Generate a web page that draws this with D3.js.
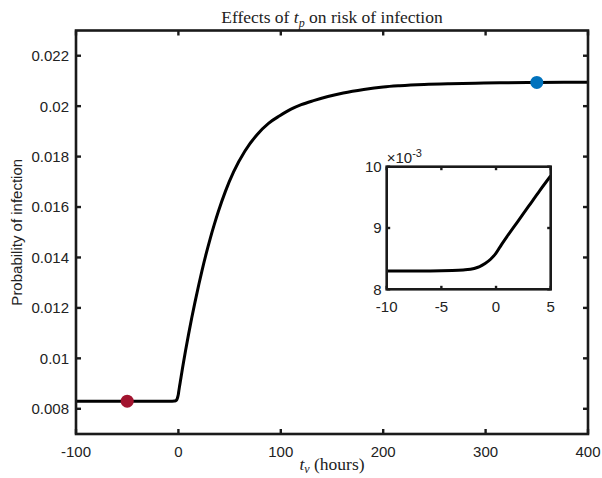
<!DOCTYPE html>
<html>
<head>
<meta charset="utf-8">
<script src="https://cdn.jsdelivr.net/npm/d3@7"></script>
<style>
  html, body { margin: 0; padding: 0; background: #fff; }
  svg { display: block; }
</style>
</head>
<body>
<svg id="chart" width="602" height="478"></svg>
<script>
// ---- data ----
const timeHours = [-100, -50, -10, -6, -4, -3, -2, -1.5, -1, -0.5, 0, 0.5, 1, 2, 3, 4, 5,
  7, 10, 13, 16, 20, 23, 27, 31, 35, 39, 46, 54, 65, 77, 88, 99, 110, 120, 132, 146,
  161, 181, 200, 216, 240, 265, 290, 314, 350, 400];
const infectionProb = [0.00830, 0.00830, 0.00830, 0.00830, 0.008305, 0.008315, 0.00834, 0.00837,
  0.00842, 0.00849, 0.00859, 0.00873, 0.00886, 0.00911, 0.00936, 0.00961, 0.00985,
  0.01031, 0.01097, 0.01160, 0.01219, 0.01294, 0.01347, 0.01413, 0.01474, 0.01530, 0.01582,
  0.01663, 0.01740, 0.01822, 0.01888, 0.01932, 0.01962, 0.01988, 0.02006, 0.02022, 0.02038,
  0.02052, 0.02066, 0.02076, 0.02081, 0.02086, 0.02089, 0.02091, 0.02093, 0.02094, 0.02095];

const markerTimes = [-50, 350];
const markerProbs = [0.00830, 0.02094];
const markerColors = ["#A2142F", "#0072BD"];

const xTicks = [-100, 0, 100, 200, 300, 400];
const xTickLabels = ["-100", "0", "100", "200", "300", "400"];
const yTicks = [0.008, 0.010, 0.012, 0.014, 0.016, 0.018, 0.020, 0.022];
const yTickLabels = ["0.008", "0.01", "0.012", "0.014", "0.016", "0.018", "0.02", "0.022"];

const insetXTicks = [-10, -5, 0, 5];
const insetXTickLabels = ["-10", "-5", "0", "5"];
const insetYTicks = [0.008, 0.009, 0.010];
const insetYTickLabels = ["8", "9", "10"];

const titleParts = ["Effects of ", "t", "p", " on risk of infection"];
const yLabel = "Probability of infection";

// ---- layout ----
const svg = d3.select("#chart");
const M = { left: 76, right: 588, top: 30.5, bottom: 434 };
const I = { left: 386.7, right: 550.7, top: 166.7, bottom: 289.3 };
const ink = "#1a1a1a";
const sans = '"Liberation Sans", Arial, Helvetica, sans-serif';
const serif = '"Liberation Serif", "DejaVu Serif", serif';

const x = d3.scaleLinear().domain([-100, 400]).range([M.left, M.right]);
const y = d3.scaleLinear().domain([0.007, 0.023]).range([M.bottom, M.top]);

const data = timeHours.map((t, i) => ({ t, p: infectionProb[i] }));

function drawAxes(g, xs, ys, box, xt, xtl, yt, ytl, tickLen, fontSize, xLabOff, yLabOff) {
  const tk = g.append("g").attr("stroke", ink).attr("stroke-width", 2.4);
  xt.forEach(v => {
    const px = xs(v);
    tk.append("line").attr("x1", px).attr("x2", px).attr("y1", box.bottom).attr("y2", box.bottom - tickLen);
    tk.append("line").attr("x1", px).attr("x2", px).attr("y1", box.top).attr("y2", box.top + tickLen);
  });
  yt.forEach(v => {
    const py = ys(v);
    tk.append("line").attr("x1", box.left).attr("x2", box.left + tickLen).attr("y1", py).attr("y2", py);
    tk.append("line").attr("x1", box.right).attr("x2", box.right - tickLen).attr("y1", py).attr("y2", py);
  });
  g.append("rect")
    .attr("x", box.left).attr("y", box.top)
    .attr("width", box.right - box.left).attr("height", box.bottom - box.top)
    .attr("fill", "none").attr("stroke", ink).attr("stroke-width", 2.6);
  const lab = g.append("g").attr("font-family", sans).attr("font-size", fontSize).attr("fill", "#222");
  xt.forEach((v, i) => {
    lab.append("text").attr("x", xs(v)).attr("y", box.bottom + xLabOff)
      .attr("text-anchor", "middle").text(xtl[i]);
  });
  yt.forEach((v, i) => {
    lab.append("text").attr("x", box.left - yLabOff).attr("y", ys(v))
      .attr("dy", "0.36em").attr("text-anchor", "end").text(ytl[i]);
  });
}

// ---- main panel ----
const main = svg.append("g");
main.append("path")
  .datum(data)
  .attr("fill", "none").attr("stroke", "#000").attr("stroke-width", 3)
  .attr("stroke-linejoin", "round")
  .attr("d", d3.line().x(d => x(d.t)).y(d => y(d.p)).curve(d3.curveMonotoneX));

main.selectAll("circle.marker")
  .data(markerTimes.map((t, i) => ({ t, p: markerProbs[i], c: markerColors[i] })))
  .join("circle").attr("class", "marker")
  .attr("cx", d => x(d.t)).attr("cy", d => y(d.p)).attr("r", 6.5)
  .attr("fill", d => d.c);

drawAxes(main, x, y, M, xTicks, xTickLabels, yTicks, yTickLabels, 5, 15, 22.5, 7);

// title
const title = svg.append("text")
  .attr("x", (M.left + M.right) / 2).attr("y", 23)
  .attr("text-anchor", "middle").attr("font-family", serif).attr("font-size", 17.5).attr("fill", "#222");
title.append("tspan").text(titleParts[0]);
title.append("tspan").attr("font-style", "italic").text(titleParts[1]);
title.append("tspan").attr("font-style", "italic").attr("font-size", 12).attr("dy", 3.5).text(titleParts[2]);
title.append("tspan").attr("dy", -3.5).text(titleParts[3]);

// x label
const xl = svg.append("text")
  .attr("x", (M.left + M.right) / 2).attr("y", 470)
  .attr("text-anchor", "middle").attr("font-family", serif).attr("font-size", 17.5).attr("fill", "#222");
xl.append("tspan").attr("font-style", "italic").text("t");
xl.append("tspan").attr("font-style", "italic").attr("font-size", 12).attr("dy", 3).text("v");
xl.append("tspan").attr("dy", -3).text(" (hours)");

// y label
svg.append("text")
  .attr("transform", `translate(22,${(M.top + M.bottom) / 2}) rotate(-90)`)
  .attr("text-anchor", "middle").attr("font-family", sans).attr("font-size", 15).attr("fill", "#222")
  .text(yLabel);

// ---- inset ----
const xi = d3.scaleLinear().domain([-10, 5]).range([I.left, I.right]);
const yi = d3.scaleLinear().domain([0.008, 0.010]).range([I.bottom, I.top]);
const inset = svg.append("g");
inset.append("rect")
  .attr("x", I.left).attr("y", I.top)
  .attr("width", I.right - I.left).attr("height", I.bottom - I.top)
  .attr("fill", "#fff");
svg.append("clipPath").attr("id", "insetClip").append("rect")
  .attr("x", I.left).attr("y", I.top)
  .attr("width", I.right - I.left).attr("height", I.bottom - I.top);
inset.append("path")
  .datum(data.filter(d => d.t >= -10 && d.t <= 5))
  .attr("clip-path", "url(#insetClip)")
  .attr("fill", "none").attr("stroke", "#000").attr("stroke-width", 3)
  .attr("stroke-linejoin", "round")
  .attr("d", d3.line().x(d => xi(d.t)).y(d => yi(d.p)).curve(d3.curveMonotoneX));

drawAxes(inset, xi, yi, I, insetXTicks, insetXTickLabels, insetYTicks, insetYTickLabels, 3.5, 15, 22.5, 5);

// exponent label
const ex = svg.append("text")
  .attr("x", I.left).attr("y", I.top - 3.5)
  .attr("font-family", sans).attr("font-size", 15).attr("fill", "#222");
ex.append("tspan").text("\u00d710");
ex.append("tspan").attr("font-size", 11).attr("dy", -6).text("-3");
</script>
</body>
</html>
